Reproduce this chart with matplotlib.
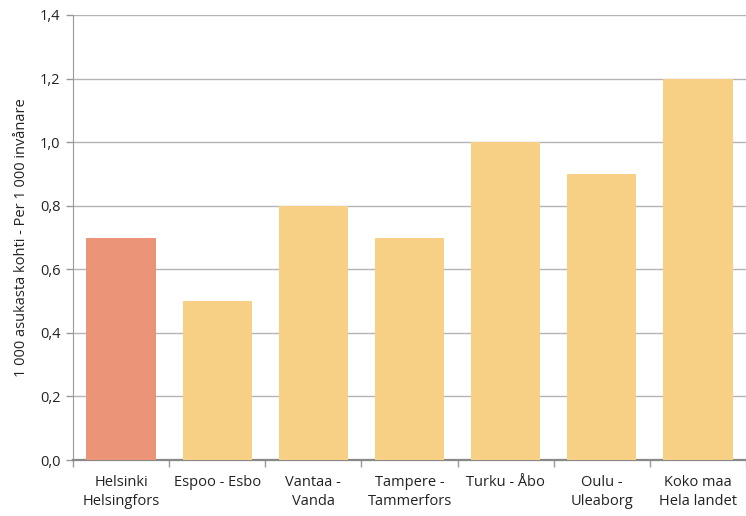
import matplotlib
matplotlib.use("Agg")
import matplotlib.pyplot as plt
import numpy as np

categories = ["Helsinki\nHelsingfors", "Espoo - Esbo", "Vantaa -\nVanda",
              "Tampere -\nTammerfors", "Turku - Åbo", "Oulu -\nUleaborg",
              "Koko maa\nHela landet"]
values = [0.7, 0.5, 0.8, 0.7, 1.0, 0.9, 1.2]
colors = ["#EC9477", "#F7CF85", "#F7CF85", "#F7CF85", "#F7CF85", "#F7CF85", "#F7CF85"]
yticks = [0.0, 0.2, 0.4, 0.6, 0.8, 1.0, 1.2, 1.4]

plt.rcParams['font.family'] = ['Open Sans', 'DejaVu Sans']

fig = plt.figure(figsize=(7.46, 5.16), dpi=100)
ax = fig.add_axes([73/746, 1-460/516, 1-73/746, (460-15)/516])

x = np.arange(len(categories))
ax.bar(x, values, width=0.72, color=colors, zorder=3)

ax.set_xlim(-0.5, len(categories) - 0.5)
ax.set_ylim(0, 1.4)
ax.set_yticks(yticks)
ax.set_yticklabels([f"{v:.1f}".replace(".", ",") for v in yticks], fontsize=10.5, color="#222222")
ax.yaxis.grid(True, color="#b4b4b4", linewidth=1.0, zorder=0)

ax.set_xticks(x)
ax.set_xticklabels(categories, fontsize=10.5, color="#222222", linespacing=1.3)
ax.set_xticks(np.arange(len(categories) + 1) - 0.5, minor=True)
ax.tick_params(axis="x", which="major", length=0, pad=11)
ax.tick_params(axis="x", which="minor", length=5, color="#999999", width=1)
ax.tick_params(axis="y", length=5, color="#999999", width=1, pad=4)

for s in ["top", "right"]:
    ax.spines[s].set_visible(False)
ax.spines["left"].set_color("#999999")
ax.spines["bottom"].set_color("#888888")
ax.spines["bottom"].set_linewidth(1.6)

ax.set_ylabel("1 000 asukasta kohti - Per 1 000 invånare", fontsize=10.5, color="#222222", labelpad=8)

fig.savefig("out.png", dpi=100)
